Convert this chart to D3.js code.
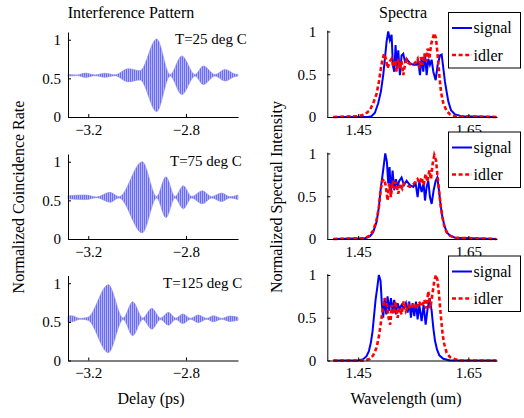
<!DOCTYPE html>
<html>
<head>
<meta charset="utf-8">
<script src="https://cdn.jsdelivr.net/npm/d3@7"></script>
<style>
body{margin:0;background:#fff}
svg text{font-family:"Liberation Serif","Times New Roman",serif;fill:#000}
</style>
</head>
<body>
<svg></svg>
<script>
var temps = ["T=25 deg C","T=75 deg C","T=125 deg C"]
var delayTicks = [-3.2,-2.8]
var waveTicks = [1.45,1.65]
var yTicks = [0,0.5,1]
var fringeMid = 0.54

// fringe envelope (half amplitude)
var delay25 = [-3.283,-3.246,-3.213,-3.172,-3.132,-3.091,-3.037,-2.988,-2.920,-2.865,-2.817,-2.763,-2.729,-2.681,-2.640,-2.599,-2.587]
var env25 = [0.012,0.004,0.028,0.005,0.026,0.006,0.085,0.06,0.47,0.01,0.25,0.01,0.12,0.01,0.075,0.015,0.01]
var delay75 = [-3.283,-3.213,-3.165,-3.111,-3.074,-2.979,-2.920,-2.882,-2.845,-2.811,-2.777,-2.733,-2.695,-2.654,-2.620,-2.587]
var env75 = [0.02,0.03,0.005,0.064,0.008,0.46,0.01,0.265,0.01,0.15,0.01,0.085,0.008,0.055,0.008,0.03]
var delay125 = [-3.283,-3.268,-3.234,-3.201,-3.118,-3.057,-3.018,-2.977,-2.940,-2.904,-2.872,-2.842,-2.813,-2.781,-2.750,-2.715,-2.688,-2.654,-2.620,-2.587]
var env125 = [0.036,0.04,0.005,0.02,0.44,0.01,0.22,0.01,0.135,0.008,0.083,0.008,0.062,0.006,0.05,0.006,0.04,0.005,0.035,0.02]

// spectra [wavelength um, normalized intensity]
var sig25 = [[1.405,0],[1.4682,0],[1.4743,0.01],[1.4804,0.05],[1.4864,0.16],[1.4913,0.3],[1.4955,0.49],[1.4985,0.68],[1.5016,0.88],[1.5046,1.0],[1.5076,0.9],[1.5107,0.96],[1.5131,0.6],[1.5155,0.53],[1.5179,0.84],[1.5204,0.57],[1.5228,0.78],[1.5258,0.49],[1.5288,0.72],[1.5319,0.74],[1.5349,0.65],[1.5379,0.68],[1.5440,0.63],[1.5500,0.61],[1.5561,0.61],[1.5591,0.65],[1.5622,0.49],[1.5652,0.7],[1.5682,0.53],[1.5713,0.74],[1.5743,0.49],[1.5773,0.68],[1.5803,0.61],[1.5834,0.67],[1.5864,0.53],[1.5907,0.43],[1.5943,0.61],[1.5985,0.72],[1.6016,0.73],[1.6046,0.57],[1.6076,0.41],[1.6107,0.29],[1.6137,0.18],[1.6185,0.08],[1.6258,0.03],[1.6379,0.01],[1.701,0]]
var idl25 = [[1.405,0],[1.4501,0.01],[1.4622,0.03],[1.4713,0.08],[1.4773,0.16],[1.4834,0.27],[1.4876,0.41],[1.4913,0.57],[1.4943,0.68],[1.4973,0.74],[1.5004,0.68],[1.5034,0.57],[1.5076,0.65],[1.5107,0.68],[1.5137,0.59],[1.5167,0.67],[1.5198,0.53],[1.5228,0.68],[1.5258,0.57],[1.5288,0.65],[1.5319,0.49],[1.5349,0.61],[1.5379,0.67],[1.5410,0.63],[1.5470,0.61],[1.5531,0.63],[1.5579,0.68],[1.5610,0.57],[1.5640,0.7],[1.5670,0.61],[1.5701,0.74],[1.5731,0.65],[1.5761,0.8],[1.5792,0.68],[1.5822,0.84],[1.5852,0.92],[1.5882,0.98],[1.5913,0.92],[1.5943,0.72],[1.5973,0.49],[1.6004,0.29],[1.6046,0.16],[1.6107,0.07],[1.6167,0.03],[1.6258,0.01],[1.701,0]]
var sig75 = [[1.405,0],[1.4622,0.01],[1.4713,0.03],[1.4773,0.08],[1.4834,0.2],[1.4876,0.37],[1.4913,0.61],[1.4937,0.72],[1.4961,0.84],[1.4992,1.0],[1.5022,0.9],[1.5046,0.65],[1.5070,0.84],[1.5095,0.53],[1.5125,0.8],[1.5155,0.57],[1.5185,0.7],[1.5216,0.61],[1.5246,0.68],[1.5288,0.72],[1.5331,0.63],[1.5379,0.68],[1.5440,0.63],[1.5500,0.61],[1.5543,0.65],[1.5579,0.49],[1.5610,0.67],[1.5652,0.55],[1.5688,0.65],[1.5713,0.45],[1.5743,0.61],[1.5773,0.68],[1.5803,0.49],[1.5834,0.41],[1.5870,0.57],[1.5907,0.68],[1.5937,0.72],[1.5967,0.57],[1.5998,0.39],[1.6028,0.26],[1.6064,0.16],[1.6107,0.08],[1.6167,0.04],[1.6258,0.015],[1.701,0]]
var idl75 = [[1.405,0],[1.4622,0.01],[1.4713,0.04],[1.4773,0.1],[1.4834,0.22],[1.4876,0.37],[1.4907,0.57],[1.4937,0.68],[1.4973,0.7],[1.5004,0.61],[1.5034,0.45],[1.5064,0.65],[1.5095,0.49],[1.5125,0.68],[1.5155,0.59],[1.5185,0.67],[1.5228,0.53],[1.5264,0.65],[1.5301,0.59],[1.5337,0.65],[1.5379,0.63],[1.5440,0.61],[1.5500,0.64],[1.5543,0.67],[1.5579,0.7],[1.5616,0.65],[1.5652,0.72],[1.5688,0.63],[1.5725,0.76],[1.5755,0.67],[1.5792,0.8],[1.5822,0.7],[1.5852,0.88],[1.5882,0.98],[1.5913,0.92],[1.5937,0.76],[1.5967,0.57],[1.5998,0.39],[1.6028,0.26],[1.6064,0.15],[1.6107,0.08],[1.6167,0.04],[1.6258,0.015],[1.701,0]]
var sig125 = [[1.405,0],[1.4501,0],[1.4592,0.015],[1.4652,0.05],[1.4695,0.11],[1.4731,0.21],[1.4761,0.34],[1.4791,0.54],[1.4816,0.71],[1.4846,0.85],[1.4876,1.0],[1.4907,0.93],[1.4931,0.65],[1.4955,0.5],[1.4979,0.73],[1.5010,0.54],[1.5034,0.75],[1.5064,0.58],[1.5095,0.73],[1.5125,0.58],[1.5155,0.71],[1.5185,0.54],[1.5216,0.67],[1.5252,0.6],[1.5288,0.65],[1.5331,0.61],[1.5367,0.67],[1.5398,0.56],[1.5428,0.69],[1.5458,0.5],[1.5488,0.67],[1.5519,0.52],[1.5549,0.69],[1.5579,0.48],[1.5610,0.65],[1.5652,0.46],[1.5688,0.65],[1.5725,0.42],[1.5761,0.61],[1.5798,0.73],[1.5834,0.58],[1.5864,0.38],[1.5895,0.23],[1.5931,0.13],[1.5973,0.06],[1.6046,0.02],[1.6167,0],[1.701,0]]
var idl125 = [[1.405,0],[1.4622,0],[1.4713,0.02],[1.4773,0.06],[1.4834,0.15],[1.4882,0.3],[1.4925,0.5],[1.4961,0.65],[1.4992,0.73],[1.5022,0.65],[1.5052,0.5],[1.5082,0.42],[1.5113,0.65],[1.5143,0.54],[1.5179,0.69],[1.5216,0.5],[1.5252,0.61],[1.5288,0.54],[1.5325,0.69],[1.5367,0.58],[1.5410,0.65],[1.5458,0.6],[1.5507,0.67],[1.5555,0.6],[1.5604,0.69],[1.5652,0.63],[1.5701,0.71],[1.5737,0.61],[1.5773,0.81],[1.5810,0.61],[1.5846,0.77],[1.5882,0.93],[1.5913,1.0],[1.5943,0.93],[1.5973,0.73],[1.6004,0.5],[1.6034,0.3],[1.6064,0.19],[1.6107,0.09],[1.6167,0.04],[1.6258,0.015],[1.6379,0],[1.701,0]]

var fringes = [d3.zip(delay25,env25), d3.zip(delay75,env75), d3.zip(delay125,env125)]
var signals = [sig25, sig75, sig125]
var idlers = [idl25, idl75, idl125]

var bottoms = [117, 239, 360.5]
var labelX = [175, 170, 163]
var legendTop = [12.5, 132, 256]

var svg = d3.select("svg").attr("width",524).attr("height",418)

var pat = svg.append("defs").append("pattern")
      .attr("id","fringe")
      .attr("width",2).attr("height",4)
      .attr("patternUnits","userSpaceOnUse")
pat.append("rect").attr("width",2).attr("height",4).attr("fill","#b4b4f8")
pat.append("rect").attr("width",1).attr("height",4).attr("fill","#6c6cef")

var xDelay = d3.scaleLinear().domain([-3.283,-2.587]).range([68,238])
var xWave = d3.scaleLinear().domain([1.394,1.702]).range([327.3,497])

function fontAxis(g,size){
  g.selectAll("text").style("font-size",size+"px")
  g.selectAll("path,line").attr("stroke","#000")
}

bottoms.forEach(function(base,i){
  var yL = d3.scaleLinear().domain([0,1.1]).range([base,base-85])
  var yR = d3.scaleLinear().domain([0,1.015]).range([base,base-86.8])

  var area = d3.area()
        .x(d=>xDelay(d[0]))
        .y0(d=>yL(fringeMid-d[1]))
        .y1(d=>yL(fringeMid+d[1]))
        .curve(d3.curveMonotoneX)
  svg.append("path")
        .datum(fringes[i])
        .attr("d",area)
        .attr("fill","url(#fringe)")
        .attr("stroke","#8a8af3")
        .attr("stroke-width",0.6)

  var line = d3.line().x(d=>xWave(d[0])).y(d=>yR(d[1]))
  svg.append("path")
        .datum(signals[i])
        .attr("d",line)
        .attr("fill","none")
        .attr("stroke","#0000ff")
        .attr("stroke-width",2)
  svg.append("path")
        .datum(idlers[i])
        .attr("d",line)
        .attr("fill","none")
        .attr("stroke","#ff0000")
        .attr("stroke-width",2.6)
        .attr("stroke-dasharray","4,2.6")

  svg.append("g")
        .attr("transform","translate(0,"+base+")")
        .call(d3.axisBottom(xDelay).tickValues(delayTicks).tickSize(-3).tickSizeOuter(0).tickPadding(7).tickFormat(d3.format(".1f")))
        .call(fontAxis,15)
  svg.append("g")
        .attr("transform","translate(68,0)")
        .call(d3.axisLeft(yL).tickValues(yTicks).tickSize(-3).tickSizeOuter(0).tickPadding(7).tickFormat(d=>d))
        .call(fontAxis,15)
  svg.append("g")
        .attr("transform","translate(0,"+base+")")
        .call(d3.axisBottom(xWave).tickValues(waveTicks).tickSize(-3).tickSizeOuter(0).tickPadding(7).tickFormat(d3.format(".2f")))
        .call(fontAxis,15)
  svg.append("g")
        .attr("transform","translate(327.3,0)")
        .call(d3.axisLeft(yR).tickValues(yTicks).tickSize(-3).tickSizeOuter(0).tickPadding(11).tickFormat(d=>d))
        .call(fontAxis,15)

  svg.append("text")
        .text(temps[i])
        .attr("x",labelX[i])
        .attr("y",base-73)
        .style("font-size","15px")

  var lg = svg.append("g").attr("transform","translate(448.5,"+legendTop[i]+")")
  lg.append("rect")
        .attr("width",72).attr("height",55.5)
        .attr("fill","#fff").attr("stroke","#000")
  lg.append("line")
        .attr("x1",3.5).attr("x2",23.5).attr("y1",15.5).attr("y2",15.5)
        .attr("stroke","#0000ff").attr("stroke-width",2)
  lg.append("line")
        .attr("x1",3.5).attr("x2",23.5).attr("y1",42.5).attr("y2",42.5)
        .attr("stroke","#ff0000").attr("stroke-width",2.6)
        .attr("stroke-dasharray","4,2.6")
  lg.append("text").text("signal").attr("x",25).attr("y",20.5).style("font-size","16px")
  lg.append("text").text("idler").attr("x",25).attr("y",48).style("font-size","16px")
})

svg.append("text").text("Interference Pattern")
      .attr("x",131).attr("y",17.5).attr("text-anchor","middle").style("font-size","16px")
svg.append("text").text("Spectra")
      .attr("x",403).attr("y",17.5).attr("text-anchor","middle").style("font-size","16px")
svg.append("text").text("Delay (ps)")
      .attr("x",151).attr("y",404).attr("text-anchor","middle").style("font-size","16px")
svg.append("text").text("Wavelength (um)")
      .attr("x",406).attr("y",404).attr("text-anchor","middle").style("font-size","16px")
svg.append("text").text("Normalized Coincidence Rate")
      .attr("transform","translate(24,197) rotate(-90)").attr("text-anchor","middle").style("font-size","16px")
svg.append("text").text("Normalized Spectral Intensity")
      .attr("transform","translate(282,197) rotate(-90)").attr("text-anchor","middle").style("font-size","16px")
</script>
</body>
</html>
